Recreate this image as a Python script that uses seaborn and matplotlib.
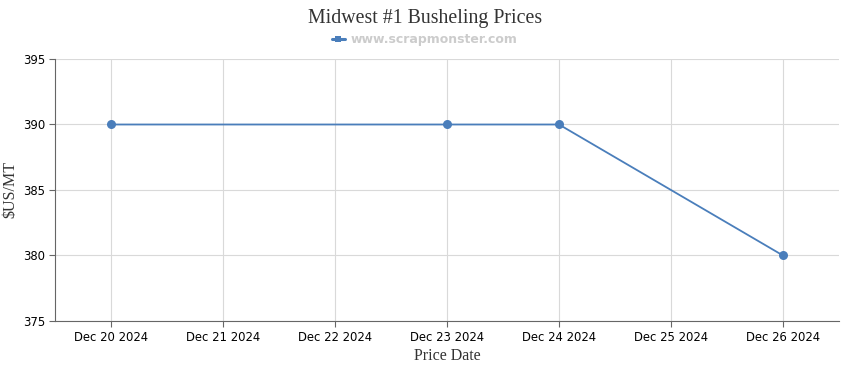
import matplotlib
matplotlib.use("Agg")
import matplotlib.pyplot as plt
import seaborn as sns
import pandas as pd
import numpy as np

# Data
dates = ["2024-12-20", "2024-12-23", "2024-12-24", "2024-12-26"]
prices = [390, 390, 390, 380]
tick_labels = ["Dec 20 2024", "Dec 21 2024", "Dec 22 2024", "Dec 23 2024",
               "Dec 24 2024", "Dec 25 2024", "Dec 26 2024"]
series_name = "www.scrapmonster.com"
title = "Midwest #1 Busheling Prices"

sns.set_theme(style="white")
plt.rcParams['font.family'] = ['DejaVu Sans']

d = pd.to_datetime(dates)
start = pd.Timestamp("2024-12-20")
df = pd.DataFrame({"day": (d - start).days.astype(float), "price": prices,
                   "series": series_name})

fig = plt.figure(figsize=(8.5, 3.7), dpi=100)
ax = fig.add_axes([55/850, 1-321/370, (839-55)/850, (321-59)/370])

color = "#4a7ebb"
sns.lineplot(data=df, x="day", y="price", hue="series", palette=[color],
             marker="o", markersize=6.5, markeredgewidth=0, linewidth=1.3,
             ax=ax)

ax.set_xlim(-0.5, 6.5)
ax.set_ylim(375, 395)
ax.set_yticks([375, 380, 385, 390, 395])
ax.set_xticks(np.arange(len(tick_labels)))
ax.set_xticklabels(tick_labels)

ax.grid(True, color="#d9d9d9", linewidth=0.8)
ax.set_axisbelow(True)
for s in ["top", "right"]:
    ax.spines[s].set_visible(False)
ax.spines["left"].set_color("#666666")
ax.spines["bottom"].set_color("#666666")
ax.spines["left"].set_linewidth(0.8)
ax.spines["bottom"].set_linewidth(0.8)
ax.tick_params(axis="both", which="both", length=4, width=0.8, color="#666666",
               labelsize=8.4, labelcolor="#000000", pad=3,
               bottom=True, left=True)

ax.set_xlabel("Price Date", family="Liberation Serif", fontsize=11.5, color="#333333", labelpad=3)
ax.set_ylabel("$US/MT", family="Liberation Serif", fontsize=11.5, color="#333333", labelpad=3)

fig.text(0.5, 1-18/370, title, ha="center", va="center",
         family="Liberation Serif", fontsize=14.3, color="#333333")

leg = ax.legend(loc="center", bbox_to_anchor=(0.5, 1-40/370), bbox_transform=fig.transFigure,
                frameon=False, handlelength=1.0, handletextpad=0.5, fontsize=9,
                borderpad=0)
for t in leg.get_texts():
    t.set_color("#cccccc")
    t.set_fontweight("bold")
for h in leg.legend_handles:
    h.set_marker("s")
    h.set_markersize(4.5)
    h.set_linewidth(2.2)

fig.savefig("out.png", dpi=100)
